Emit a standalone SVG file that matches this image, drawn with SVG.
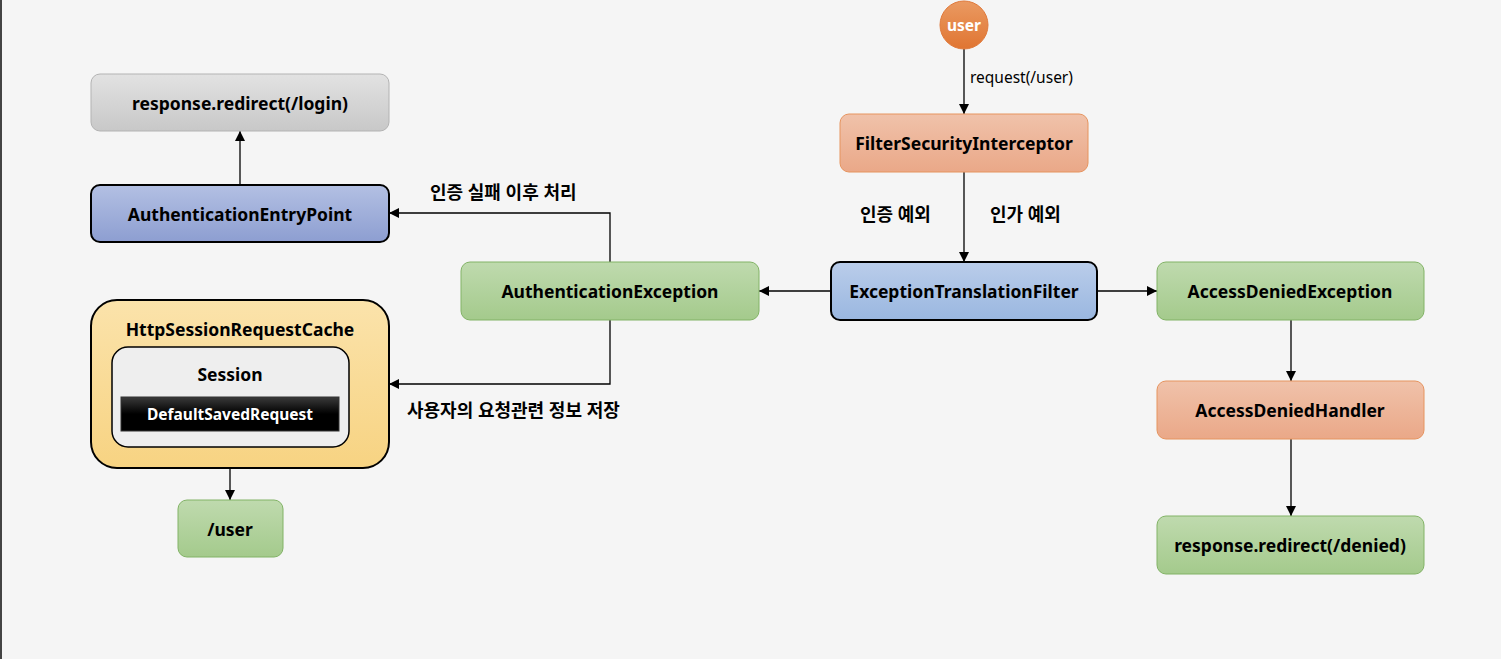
<svg xmlns="http://www.w3.org/2000/svg" width="1501" height="659" viewBox="0 0 1501 659">
<defs>
<linearGradient id="gGray" x1="0" y1="0" x2="0" y2="1"><stop offset="0" stop-color="#e2e2e2"/><stop offset="1" stop-color="#c8c8c8"/></linearGradient>
<linearGradient id="gBlue" x1="0" y1="0" x2="0" y2="1"><stop offset="0" stop-color="#b3c0e3"/><stop offset="1" stop-color="#8d9ed1"/></linearGradient>
<linearGradient id="gLBlue" x1="0" y1="0" x2="0" y2="1"><stop offset="0" stop-color="#bacdea"/><stop offset="1" stop-color="#9ab7e0"/></linearGradient>
<linearGradient id="gGreen" x1="0" y1="0" x2="0" y2="1"><stop offset="0" stop-color="#bfdaae"/><stop offset="1" stop-color="#a4ca8c"/></linearGradient>
<linearGradient id="gSalmon" x1="0" y1="0" x2="0" y2="1"><stop offset="0" stop-color="#f0c2aa"/><stop offset="1" stop-color="#eaa888"/></linearGradient>
<linearGradient id="gOrange" x1="0" y1="0" x2="0" y2="1"><stop offset="0" stop-color="#ea9a62"/><stop offset="1" stop-color="#e07532"/></linearGradient>
<linearGradient id="gYellow" x1="0" y1="0" x2="0" y2="1"><stop offset="0" stop-color="#fbe3ab"/><stop offset="1" stop-color="#f7d382"/></linearGradient>
<linearGradient id="gBlack" x1="0" y1="0" x2="0" y2="1"><stop offset="0" stop-color="#3a3a3a"/><stop offset="0.5" stop-color="#000000"/><stop offset="1" stop-color="#000000"/></linearGradient>
<marker id="arr" viewBox="0 0 10 10" refX="10" refY="5" markerWidth="10" markerHeight="10" markerUnits="userSpaceOnUse" orient="auto"><path d="M0,0 L10,5 L0,10 Z" fill="#000"/></marker>
</defs>
<style>
text{font-family:"Noto Sans","Noto Sans CJK KR",sans-serif;font-size:17.5px;font-weight:bold;fill:#000;text-anchor:middle;dominant-baseline:central}
.lbl{text-anchor:start;font-size:18px}
.reg{font-weight:normal;font-size:15.5px}
.wt{fill:#fff}
.sm{font-size:15.5px}
.gray{fill:url(#gGray);stroke:#b3b3b3;stroke-width:1}
.blue{fill:url(#gBlue);stroke:#000;stroke-width:2}
.lblue{fill:url(#gLBlue);stroke:#000;stroke-width:2}
.green{fill:url(#gGreen);stroke:#82b366;stroke-width:1}
.salmon{fill:url(#gSalmon);stroke:#e6945f;stroke-width:1}
.conn{fill:none;stroke:#000;stroke-width:1.3;marker-end:url(#arr)}
</style>
<rect x="0" y="0" width="1501" height="659" fill="#f5f5f5"/>
<rect x="0" y="0" width="2" height="659" fill="#444"/>

<g id="connectors">
<path class="conn" d="M964,49 V114"/>
<path class="conn" d="M964,172 V262"/>
<path class="conn" d="M831,291 H759"/>
<path class="conn" d="M1097,291 H1157"/>
<path class="conn" d="M1291,320 V381"/>
<path class="conn" d="M1291,439 V516"/>
<path class="conn" d="M610,262 V213 H389"/>
<path class="conn" d="M610,320 V384 H389"/>
<path class="conn" d="M240,185 V131"/>
<path class="conn" d="M230,431 V500"/>
<text class="lbl reg" x="970" y="77">request(/user)</text>
<text class="lbl" x="860" y="214">인증 예외</text>
<text class="lbl" x="990" y="214">인가 예외</text>
<text class="lbl" x="430" y="192">인증 실패 이후 처리</text>
<text class="lbl" x="407" y="410">사용자의 요청관련 정보 저장</text>
</g>

<g id="redirect-login"><rect class="gray" x="91" y="74" width="298" height="57" rx="9"/><text x="240" y="103">response.redirect(/login)</text></g>
<g id="auth-entry-point"><rect class="blue" x="91" y="185" width="298" height="57" rx="9"/><text x="240" y="214">AuthenticationEntryPoint</text></g>
<g id="http-session-request-cache">
<rect x="91" y="300" width="298" height="168" rx="26" fill="url(#gYellow)" stroke="#000" stroke-width="2"/>
<text x="240" y="329">HttpSessionRequestCache</text>
<g id="session">
<rect x="112" y="347" width="237" height="100" rx="16" fill="#eeeeee" stroke="#000" stroke-width="1.5"/>
<text x="230" y="374">Session</text>
<g id="default-saved-request"><rect x="121" y="397" width="218" height="34" fill="url(#gBlack)" stroke="#333" stroke-width="1"/><text class="wt sm" x="230" y="414">DefaultSavedRequest</text></g>
</g>
</g>
<g id="user-path"><rect class="green" x="178" y="500" width="105" height="57" rx="9"/><text x="230" y="529">/user</text></g>
<g id="authentication-exception"><rect class="green" x="461" y="262" width="298" height="58" rx="9"/><text x="610" y="291">AuthenticationException</text></g>
<g id="user"><circle cx="964" cy="25" r="24" fill="url(#gOrange)" stroke="#e07a3c" stroke-width="1"/><text class="wt sm" x="964" y="25">user</text></g>
<g id="filter-security-interceptor"><rect class="salmon" x="840" y="114" width="248" height="58" rx="9"/><text x="964" y="143">FilterSecurityInterceptor</text></g>
<g id="exception-translation-filter"><rect class="lblue" x="831" y="262" width="266" height="58" rx="9"/><text x="964" y="291">ExceptionTranslationFilter</text></g>
<g id="access-denied-exception"><rect class="green" x="1157" y="262" width="267" height="58" rx="9"/><text x="1290" y="291">AccessDeniedException</text></g>
<g id="access-denied-handler"><rect class="salmon" x="1157" y="381" width="267" height="58" rx="9"/><text x="1290" y="410">AccessDeniedHandler</text></g>
<g id="redirect-denied"><rect class="green" x="1157" y="516" width="267" height="58" rx="9"/><text x="1290" y="545">response.redirect(/denied)</text></g>
</svg>
